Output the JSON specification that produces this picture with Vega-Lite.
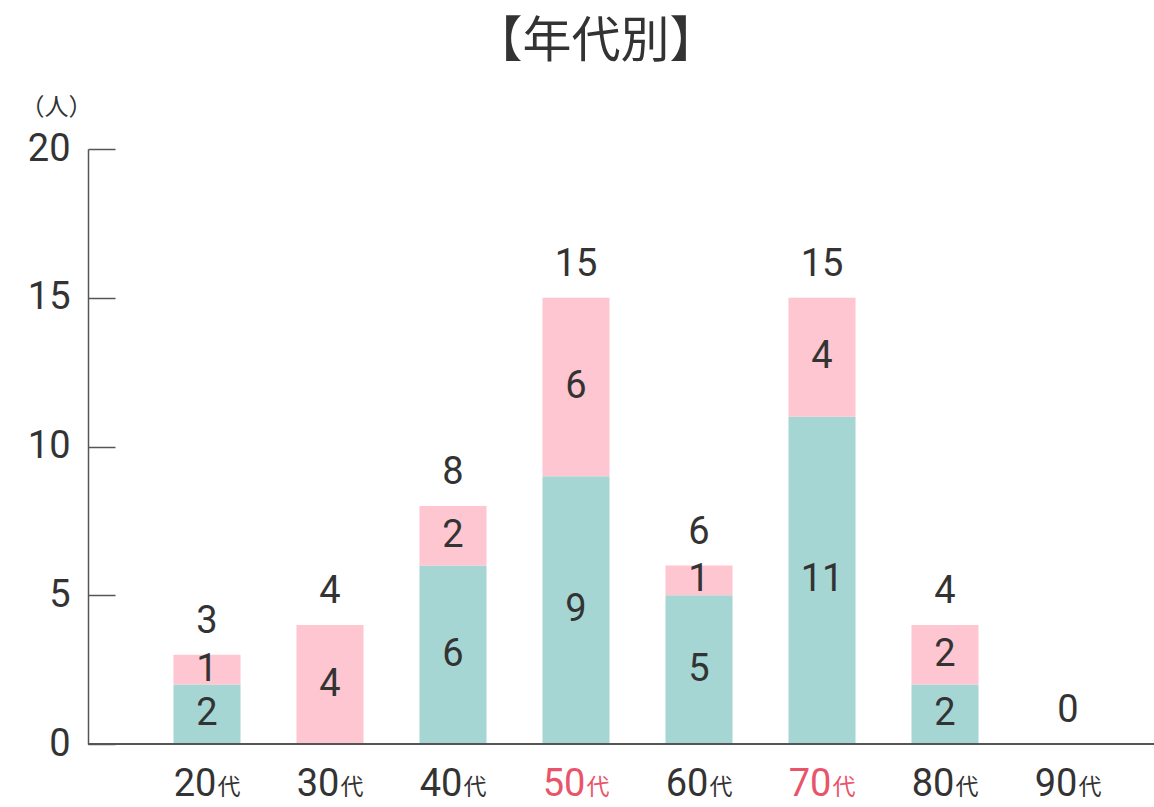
{
  "$schema": "https://vega.github.io/schema/vega-lite/v6.json",
  "autosize": "none",
  "padding": {"left": 88, "top": 149, "right": 0, "bottom": 63},
  "width": 1066,
  "height": 595,
  "background": "white",
  "config": {"view": {"stroke": null}},
  "title": {
    "text": "【年代別】",
    "font": "Noto Sans CJK JP",
    "fontSize": 49,
    "fontWeight": "normal",
    "color": "#333333",
    "anchor": "middle",
    "dx": -25,
    "offset": 28
  },
  "data": {
    "values": [
      {"age": "20代", "grp": "A", "ord": 0, "value": 2},
      {"age": "20代", "grp": "B", "ord": 1, "value": 1},
      {"age": "30代", "grp": "A", "ord": 0, "value": 0},
      {"age": "30代", "grp": "B", "ord": 1, "value": 4},
      {"age": "40代", "grp": "A", "ord": 0, "value": 6},
      {"age": "40代", "grp": "B", "ord": 1, "value": 2},
      {"age": "50代", "grp": "A", "ord": 0, "value": 9},
      {"age": "50代", "grp": "B", "ord": 1, "value": 6},
      {"age": "60代", "grp": "A", "ord": 0, "value": 5},
      {"age": "60代", "grp": "B", "ord": 1, "value": 1},
      {"age": "70代", "grp": "A", "ord": 0, "value": 11},
      {"age": "70代", "grp": "B", "ord": 1, "value": 4},
      {"age": "80代", "grp": "A", "ord": 0, "value": 2},
      {"age": "80代", "grp": "B", "ord": 1, "value": 2},
      {"age": "90代", "grp": "A", "ord": 0, "value": 0},
      {"age": "90代", "grp": "B", "ord": 1, "value": 0}
    ]
  },
  "layer": [
    {
      "mark": {"type": "bar"},
      "encoding": {
        "x": {
          "field": "age",
          "type": "nominal",
          "sort": null,
          "scale": {"range": [57.5, 1041.5], "paddingInner": 0.455, "paddingOuter": 0.2275},
          "axis": {
            "title": null,
            "ticks": false,
            "domain": false,
            "labelAngle": 0,
            "labelExpr": "replace(datum.label, '代', '')",
            "labelFont": "Roboto",
            "labelFontSize": 38,
            "labelBaseline": "alphabetic",
            "labelPadding": 51,
            "labelOffset": -12,
            "labelColor": {
              "condition": {"test": "datum.value === '50代' || datum.value === '70代'", "value": "#e9546b"},
              "value": "#333333"
            }
          }
        },
        "y": {
          "field": "value",
          "type": "quantitative",
          "aggregate": "sum",
          "stack": "zero",
          "scale": {"domain": [0, 20], "nice": false},
          "axis": {
            "values": [0, 5, 10, 15, 20],
            "grid": false,
            "domainColor": "#555555",
            "domainWidth": 1.5,
            "tickColor": "#555555",
            "tickWidth": 1.5,
            "tickSize": -27,
            "labelFont": "Roboto",
            "labelFontSize": 38,
            "labelColor": "#333333",
            "labelPadding": 45,
            "title": "（人）",
            "titleFont": "Noto Sans CJK JP",
            "titleFontSize": 24,
            "titleFontWeight": "normal",
            "titleColor": "#333333",
            "titleAngle": 0,
            "titleAlign": "left",
            "titleBaseline": "middle",
            "titleX": -68,
            "titleY": -42
          }
        },
        "color": {
          "field": "grp",
          "type": "nominal",
          "scale": {"domain": ["A", "B"], "range": ["#a5d6d3", "#fec6d0"]},
          "legend": null
        },
        "order": {"field": "ord", "type": "quantitative"}
      }
    },
    {
      "mark": {"type": "rule", "color": "#555555", "strokeWidth": 2},
      "encoding": {
        "y": {"datum": 0, "type": "quantitative"}
      }
    },
    {
      "transform": [
        {"filter": "datum.value > 0"},
        {"stack": "value", "groupby": ["age"], "sort": [{"field": "ord", "order": "ascending"}], "as": ["y0", "y1"]},
        {"fold": ["y0", "y1"], "as": ["k", "v"]}
      ],
      "mark": {"type": "text", "font": "Roboto", "fontSize": 38, "color": "#333333", "baseline": "middle", "align": "center"},
      "encoding": {
        "x": {"field": "age", "type": "nominal", "sort": null},
        "y": {"field": "v", "type": "quantitative", "aggregate": "mean", "stack": null},
        "text": {"field": "value", "type": "quantitative"},
        "detail": {"field": "grp", "type": "nominal"}
      }
    },
    {
      "mark": {"type": "text", "font": "Roboto", "fontSize": 38, "color": "#333333", "baseline": "middle", "align": "center", "dy": -33},
      "encoding": {
        "x": {"field": "age", "type": "nominal", "sort": null},
        "y": {"field": "value", "type": "quantitative", "aggregate": "sum", "stack": null},
        "text": {"field": "value", "type": "quantitative", "aggregate": "sum"}
      }
    },
    {
      "transform": [{"filter": "datum.ord === 0"}],
      "mark": {"type": "text", "font": "Noto Sans CJK JP", "fontSize": 23, "baseline": "alphabetic", "align": "center", "dx": 22, "dy": 51},
      "encoding": {
        "x": {"field": "age", "type": "nominal", "sort": null},
        "y": {"datum": 0, "type": "quantitative"},
        "text": {"value": "代"},
        "color": {
          "condition": {"test": "datum.age === '50代' || datum.age === '70代'", "value": "#e9546b"},
          "value": "#333333"
        }
      }
    }
  ]
}
